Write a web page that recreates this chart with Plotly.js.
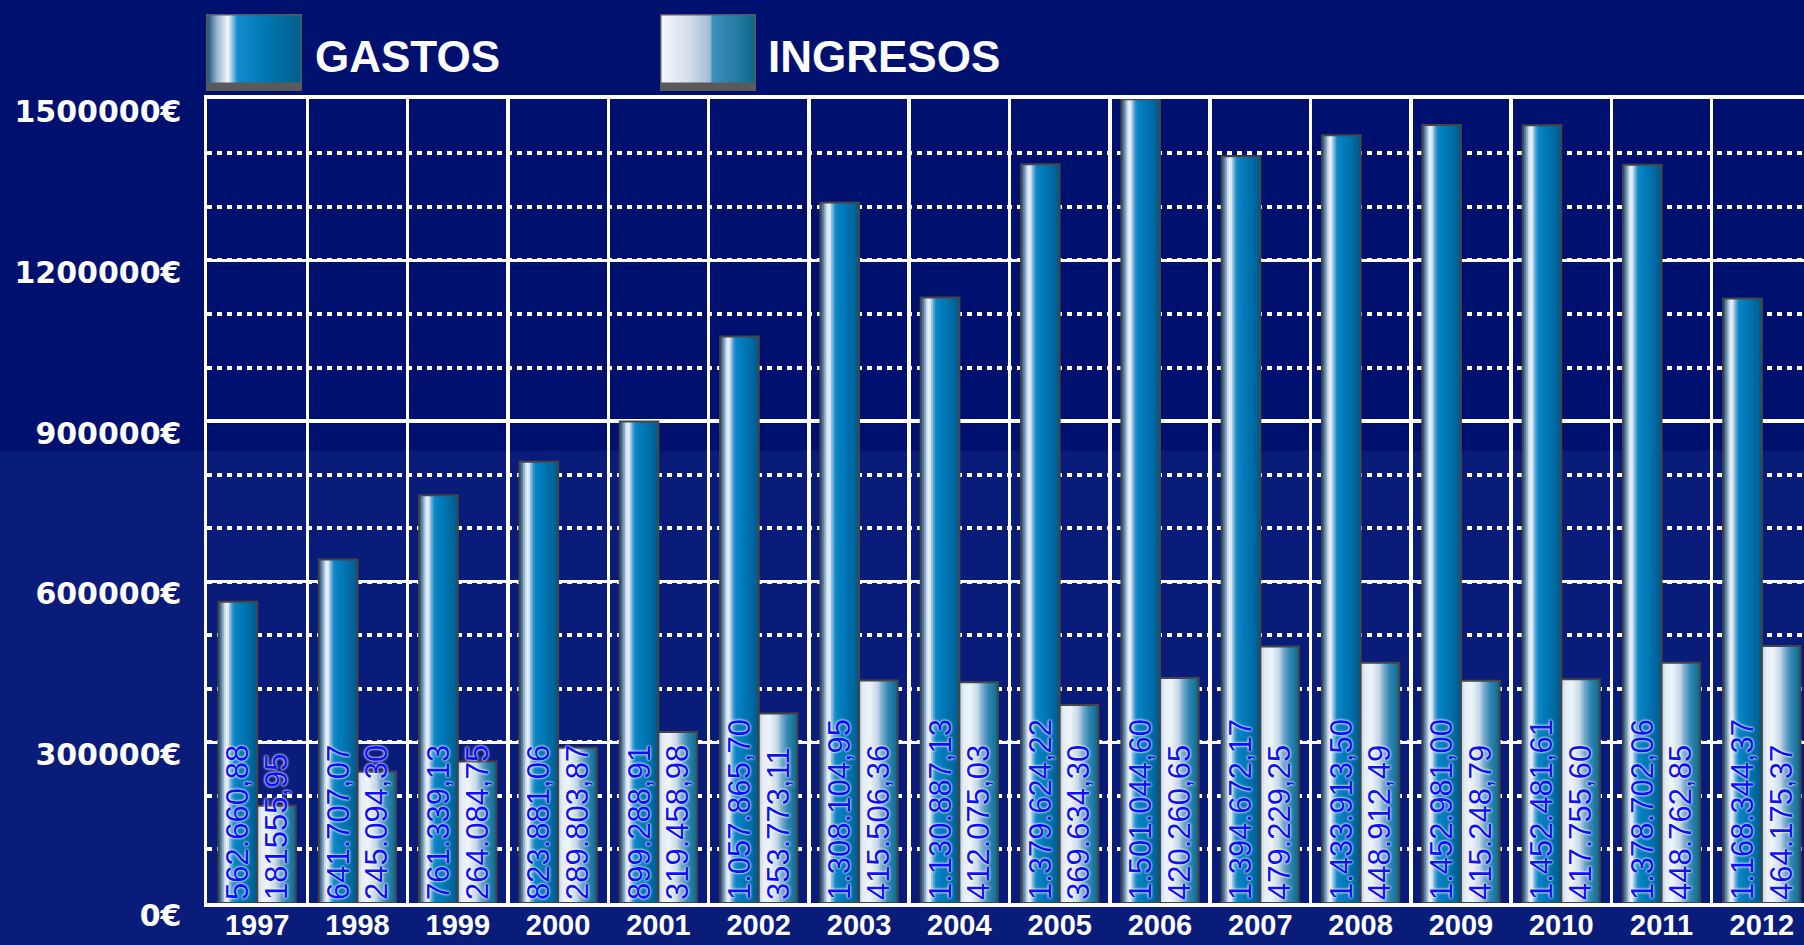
<!DOCTYPE html>
<html>
<head>
<meta charset="utf-8">
<script src="https://cdn.plot.ly/plotly-3.0.1.min.js"></script>
<style>
  html, body { margin: 0; padding: 0; background: #00106f; }
  #chart { width: 1804px; height: 945px; }
</style>
</head>
<body>
<div id="chart"></div>
<script>
// ---------------- DATA ----------------
const years = ['1997','1998','1999','2000','2001','2002','2003','2004',
               '2005','2006','2007','2008','2009','2010','2011','2012'];

// bar heights as drawn in the picture (EUR)
const gastos = [562660.88, 641707.07, 761339.13, 823881.06, 899288.91, 1057865.70,
                1308104.95, 1130887.13, 1379624.22, 1501044.60, 1394672.17, 1433913.50,
                1452981.00, 1452481.61, 1378702.06, 1129000];
const ingresos = [181555.95, 245094.30, 264084.75, 289803.87, 319458.98, 353773.11,
                  415506.36, 412075.03, 369634.30, 420260.65, 479229.25, 448912.49,
                  415248.79, 417755.60, 448762.85, 480000];

// value labels printed on the bars
const gastosLabels = ['562.660,88','641.707,07','761.339,13','823.881,06','899.288,91',
                      '1.057.865,70','1.308.104,95','1.130.887,13','1.379.624,22','1.501.044,60',
                      '1.394.672,17','1.433.913,50','1.452.981,00','1.452.481,61','1.378.702,06',
                      '1.168.344,37'];
const ingresosLabels = ['181555,95','245.094,30','264.084,75','289.803,87','319.458,98',
                        '353.773,11','415.506,36','412.075,03','369.634,30','420.260,65',
                        '479.229,25','448.912,49','415.248,79','417.755,60','448.762,85',
                        '464.175,37'];

const seriesNames = ['GASTOS', 'INGRESOS'];
const yTickVals = [0, 300000, 600000, 900000, 1200000, 1500000];
const yTickText = ['0€', '300000€', '600000€', '900000€', '1200000€', '1500000€'];

// ---------------- STYLE ----------------
const gastosStops = [
  [0.00, [42, 84, 120]], [0.08, [95, 136, 174]], [0.17, [214, 228, 242]],
  [0.23, [246, 249, 253]], [0.31, [120, 178, 220]], [0.40, [10, 134, 198]],
  [0.65, [0, 118, 180]], [0.85, [0, 103, 158]], [1.00, [0, 88, 136]]
];
const ingresosStops = [
  [0.00, [176, 200, 222]], [0.10, [228, 237, 247]], [0.28, [238, 244, 250]],
  [0.48, [196, 215, 232]], [0.60, [120, 170, 204]], [0.75, [52, 136, 180]],
  [1.00, [10, 104, 140]]
];
function lerpColor(stops, t) {
  for (let i = 0; i < stops.length - 1; i++) {
    const a = stops[i], b = stops[i + 1];
    if (t >= a[0] && t <= b[0]) {
      const f = (t - a[0]) / (b[0] - a[0]);
      const c = a[1].map((v, k) => Math.round(v + (b[1][k] - v) * f));
      return 'rgb(' + c.join(',') + ')';
    }
  }
  const l = stops[stops.length - 1][1];
  return 'rgb(' + l.join(',') + ')';
}

const BAR_W = 0.385;
const STRIPES = 22;
const labelFont = {
  family: 'Liberation Sans, Arial, sans-serif', size: 31, color: '#0f0fff',
  shadow: '0px 0px 3px #ffffff, 0px 0px 2px #ffffff'
};

function seriesTraces(values, labels, stops, offset0) {
  const out = [];
  for (let i = 0; i < STRIPES; i++) {
    out.push({
      type: 'bar', x: years, y: values,
      offset: offset0 + i * BAR_W / STRIPES,
      width: BAR_W * (STRIPES - i) / STRIPES,
      marker: { color: lerpColor(stops, (i + 0.5) / STRIPES), line: { width: 0 } },
      hoverinfo: 'skip', showlegend: false
    });
  }
  out.push({
    type: 'bar', x: years, y: values,
    offset: offset0, width: BAR_W,
    marker: { color: 'rgba(0,0,0,0)', line: { color: '#454545', width: 2 } },
    text: labels, textposition: 'inside', insidetextanchor: 'start',
    textangle: -90, constraintext: 'none',
    textfont: labelFont, insidetextfont: labelFont, outsidetextfont: labelFont,
    cliponaxis: false,
    hoverinfo: 'skip', showlegend: false
  });
  return out;
}

const data = [].concat(
  seriesTraces(gastos, gastosLabels, gastosStops, -BAR_W),
  seriesTraces(ingresos, ingresosLabels, ingresosStops, 0)
);

// legend swatches as gradient images
function swatchSVG(stops) {
  const st = stops.map(s => '<stop offset="' + s[0] + '" stop-color="rgb(' + s[1].join(',') + ')"/>').join('');
  const svg = '<svg xmlns="http://www.w3.org/2000/svg" width="96" height="77" viewBox="0 0 96 77">' +
    '<defs><linearGradient id="g" x1="0" y1="0" x2="1" y2="0">' + st + '</linearGradient></defs>' +
    '<rect x="0" y="0" width="96" height="77" fill="#5a5a5a"/>' +
    '<rect x="1.5" y="1.5" width="93" height="67" fill="url(#g)"/>' +
    '</svg>';
  return 'data:image/svg+xml;charset=utf-8,' + encodeURIComponent(svg);
}
const legendGastosStops = [
  [0.00, [30, 80, 120]], [0.10, [150, 180, 205]], [0.22, [245, 248, 252]],
  [0.32, [20, 140, 205]], [0.60, [0, 120, 180]], [1.00, [0, 95, 140]]
];
const legendIngresosStops = [
  [0.00, [245, 248, 252]], [0.30, [210, 222, 236]], [0.52, [160, 188, 214]],
  [0.55, [60, 145, 192]], [0.78, [40, 125, 165]], [1.00, [10, 105, 135]]
];

// plot-area geometry in px (for paper coords)
const PL = 207, PR = 1804, PT = 99, PB = 903;
const px2x = p => (p - PL) / (PR - PL);
const px2y = p => (PB - p) / (PB - PT);

const layout = {
  width: 1804, height: 945,
  margin: { l: PL, r: 1804 - PR, t: PT, b: 945 - PB, pad: 0 },
  paper_bgcolor: '#00106f',
  plot_bgcolor: 'rgba(0,0,0,0)',
  barmode: 'overlay',
  showlegend: false,
  xaxis: {
    type: 'category', range: [-0.5, 15.42], fixedrange: true,
    showgrid: true, gridcolor: '#ffffff', gridwidth: 3.5, tickson: 'boundaries',
    ticks: '', showline: true, linecolor: '#ffffff', linewidth: 4, mirror: true,
    zeroline: false,
    tickfont: { family: 'Liberation Sans, Arial, sans-serif', size: 29, color: '#ffffff', weight: 'bold' },
    ticklabelstandoff: -7
  },
  yaxis: {
    range: [0, 1501600], fixedrange: true,
    tickvals: yTickVals, ticktext: yTickText,
    showgrid: true, gridcolor: '#ffffff', gridwidth: 3.5,
    minor: { dtick: 100000, showgrid: true, gridcolor: '#ffffff', gridwidth: 4, griddash: '5px,5px', ticks: '' },
    ticks: '', showline: true, linecolor: '#ffffff', linewidth: 3.5,
    zeroline: false,
    tickfont: { family: 'DejaVu Sans, sans-serif', size: 30, color: '#ffffff', weight: 'bold' },
    ticklabelstandoff: 16, ticklabelshift: 12
  },
  shapes: [
    { type: 'rect', xref: 'paper', yref: 'paper', layer: 'below',
      x0: px2x(0), x1: px2x(1804), y0: px2y(945), y1: px2y(451),
      fillcolor: '#0a1c7a', line: { width: 0 } }
  ],
  images: [
    { source: swatchSVG(legendGastosStops), xref: 'paper', yref: 'paper',
      x: px2x(206), y: px2y(14), sizex: 96 / (PR - PL), sizey: 77 / (PB - PT),
      xanchor: 'left', yanchor: 'top', sizing: 'stretch', layer: 'above' },
    { source: swatchSVG(legendIngresosStops), xref: 'paper', yref: 'paper',
      x: px2x(660), y: px2y(14), sizex: 96 / (PR - PL), sizey: 77 / (PB - PT),
      xanchor: 'left', yanchor: 'top', sizing: 'stretch', layer: 'above' }
  ],
  annotations: [
    { text: seriesNames[0], xref: 'paper', yref: 'paper', x: px2x(313), y: px2y(57),
      xanchor: 'left', yanchor: 'middle', showarrow: false,
      font: { family: 'Liberation Sans, Arial, sans-serif', size: 44, color: '#ffffff', weight: 'bold' } },
    { text: seriesNames[1], xref: 'paper', yref: 'paper', x: px2x(766), y: px2y(57),
      xanchor: 'left', yanchor: 'middle', showarrow: false,
      font: { family: 'Liberation Sans, Arial, sans-serif', size: 44, color: '#ffffff', weight: 'bold' } }
  ]
};

Plotly.newPlot('chart', data, layout, { staticPlot: true, displayModeBar: false });
</script>
</body>
</html>
